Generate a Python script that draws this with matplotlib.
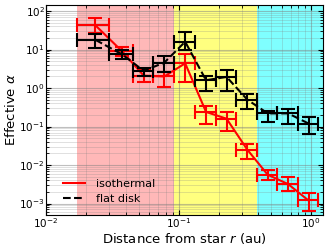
import numpy as np
import matplotlib
matplotlib.use("Agg")
import matplotlib.pyplot as plt

# bordes de los bins en r (au)
bordes = np.array([0.017, 0.030, 0.045, 0.064, 0.092, 0.132, 0.19, 0.27, 0.39, 0.55, 0.79, 1.12])

# isothermal
alpha_iso = [43, 9.0, 2.1, 2.0, 4.4, 0.24, 0.16, 0.025, 0.0056, 0.0032, 0.0012]
iso_bajo = [27, 6.7, 1.45, 1.07, 1.45, 0.12, 0.076, 0.0145, 0.004, 0.0021, 0.00063]
iso_alto = [65, 11.5, 3.0, 2.6, 7.9, 0.34, 0.24, 0.035, 0.0076, 0.0048, 0.0019]

# flat disk
alpha_flat = [18, 7.5, 2.8, 4.6, 16, 1.6, 1.95, 0.5, 0.22, 0.22, 0.12]
flat_bajo = [10.7, 5.6, 2.0, 2.6, 9.6, 0.84, 0.84, 0.29, 0.13, 0.12, 0.063]
flat_alto = [26, 10, 3.4, 7.0, 29, 2.1, 2.9, 0.72, 0.26, 0.29, 0.18]

r = (bordes[:-1] + bordes[1:]) / 2
r_err = (bordes[1:] - bordes[:-1]) / 2

fig, ax = plt.subplots(figsize=(3.27, 2.45), dpi=100)
fig.subplots_adjust(left=0.141, right=0.988, top=0.98, bottom=0.122)

# zonas sombreadas
ax.axvspan(bordes[0], bordes[4], color="red", alpha=0.28, lw=0)
ax.axvspan(bordes[4], bordes[8], color="yellow", alpha=0.5, lw=0)
ax.axvspan(bordes[8], 2.0, color="cyan", alpha=0.5, lw=0)

a = np.array(alpha_iso)
ax.errorbar(r, a, xerr=r_err, yerr=[a - np.array(iso_bajo), np.array(iso_alto) - a],
            fmt="none", ecolor="red", elinewidth=1.5, capsize=5, capthick=1.5, zorder=3)
ax.plot(r, a, "-", color="red", lw=1.5, label="isothermal", zorder=3)

b = np.array(alpha_flat)
ax.errorbar(r, b, xerr=r_err, yerr=[b - np.array(flat_bajo), np.array(flat_alto) - b],
            fmt="none", ecolor="black", elinewidth=1.5, capsize=5, capthick=1.5, zorder=4)
ax.plot(r, b, "--", color="black", lw=1.5, label="flat disk", zorder=4)

ax.set_xscale("log")
ax.set_yscale("log")
ax.set_xlim(0.01, 1.23)
ax.set_ylim(5e-4, 145)

ax.grid(which="major", color="gray", lw=0.8, alpha=0.5)
ax.grid(which="minor", color="gray", lw=0.5, alpha=0.35)
ax.tick_params(which="both", direction="in", top=True, right=True, labelsize=7.5, pad=1)

ax.set_xlabel("Distance from star $r$ (au)", fontsize=9.5)
ax.xaxis.set_label_coords(0.5, -0.074)
ax.set_ylabel("Effective $\\alpha$", fontsize=9.5, labelpad=1)
ax.legend(loc="lower left", bbox_to_anchor=(0.025, 0.005), frameon=False,
          fontsize=8, handletextpad=1.0)

fig.savefig("out.png", dpi=100)
